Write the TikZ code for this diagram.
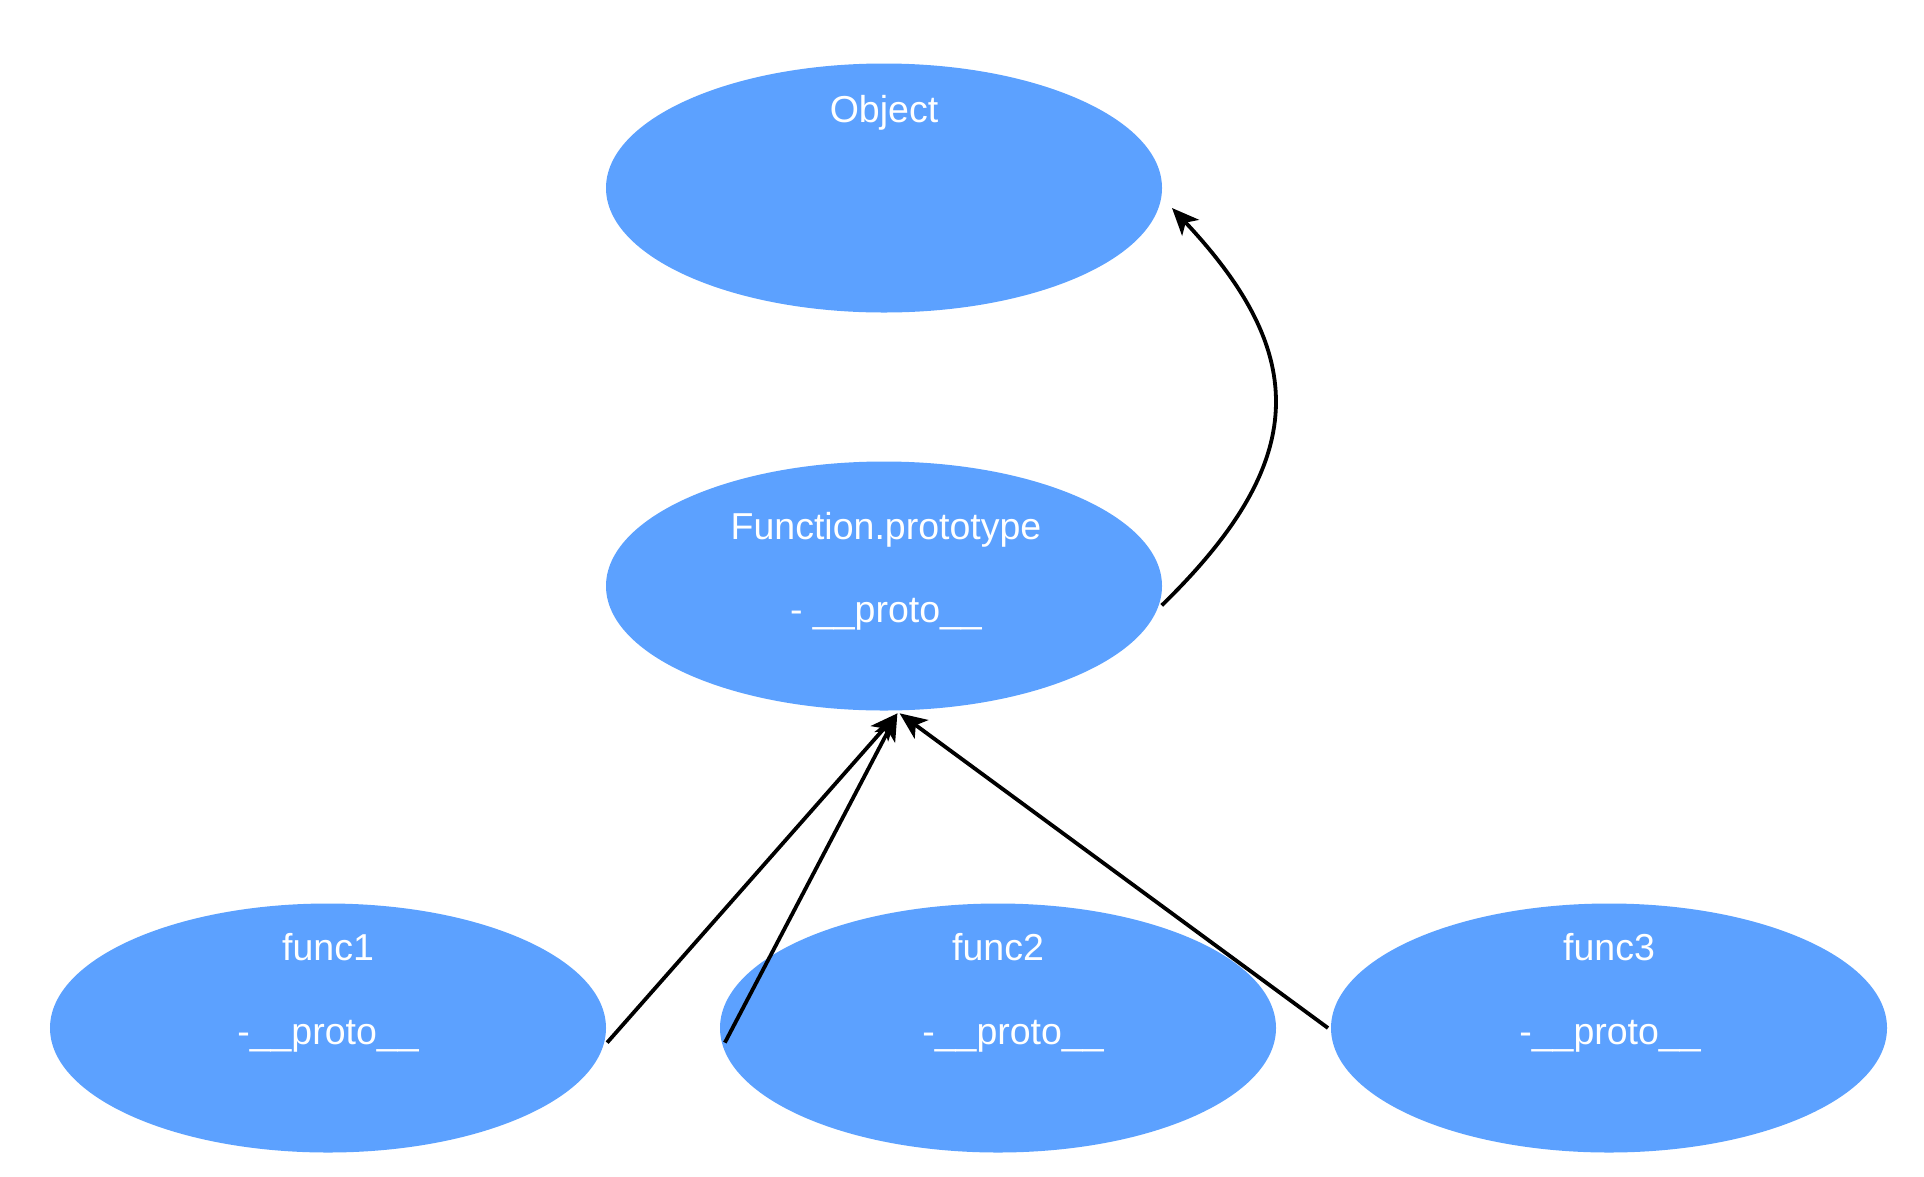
\documentclass[tikz,border=0pt]{standalone}
\usepackage{fontspec}
\setmainfont{Liberation Sans}
\usetikzlibrary{shapes.geometric,arrows.meta}
\definecolor{nodeblue}{RGB}{92,161,255}
\tikzset{
  blob/.style={ellipse, fill=nodeblue, draw=none, inner sep=0pt, outer sep=3bp,
    minimum width=556bp, minimum height=249bp},
  lbl/.style={text=white, inner sep=0pt, anchor=base,
    font=\fontsize{37.5bp}{44bp}\selectfont},
  conn/.style={draw=black, line width=3.8bp,
    -{Stealth[length=27bp, width=23bp, inset=7bp]}}
}
\begin{document}
\begin{tikzpicture}[x=1bp, y=-1bp]
\useasboundingbox (0,0) rectangle (1924,1176);
% ellipses
\node[blob] (ob) at (884,188) {};
\node[blob] (fp) at (884,586) {};
\node[blob] (f1) at (328,1028) {};
\node[blob] (f2) at (998,1028) {};
\node[blob] (f3) at (1609,1028) {};
% labels
\node[lbl] (obt) at (884,122) {Object};
\node[lbl] (fpt1) at (886,539) {Function.prototype};
\node[lbl] (fpt2) at (886,622) {- \_\_proto\_\_};
\node[lbl] (f1t1) at (328,960) {func1};
\node[lbl] (f1t2) at (328,1044) {-\_\_proto\_\_};
\node[lbl] (f2t1) at (998,960) {func2};
\node[lbl] (f2t2) at (1013,1044) {-\_\_proto\_\_};
\node[lbl] (f3t1) at (1609,960) {func3};
\node[lbl] (f3t2) at (1610,1044) {-\_\_proto\_\_};
% connectors
\coordinate (tipob) at (1172,208);
\draw[conn] (fp.-4.5) .. controls (1310,461) and (1310,355) .. (tipob);
\draw[conn] (f1.-3.3) -- (fp.-84);
\draw[conn] ([xshift=6bp]f2.183.3) -- (fp.-84);
\draw[conn] (f3.180) -- (fp.-83.5);
\end{tikzpicture}
\end{document}
